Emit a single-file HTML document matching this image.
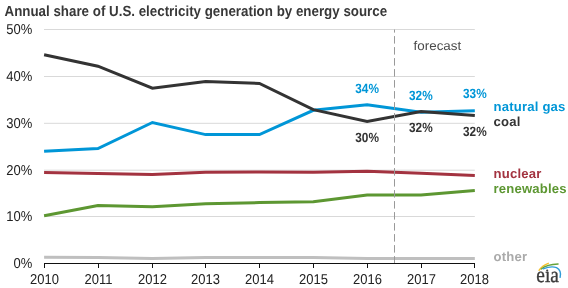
<!DOCTYPE html><html><head><meta charset="utf-8"><style>html,body{margin:0;padding:0;background:#fff;width:568px;height:288px;overflow:hidden}svg{display:block;will-change:transform;text-rendering:geometricPrecision}</style></head><body><svg width="568" height="288" viewBox="0 0 568 288">

<text transform="translate(4.5,15.8) scale(1.0,1.1)" font-family="Liberation Sans" font-size="13.35" font-weight="bold" fill="#383838">Annual share of U.S. electricity generation by energy source</text>
<line x1="44" x2="474.8" y1="29.5" y2="29.5" stroke="#d9d9d9" stroke-width="1"/>
<line x1="44" x2="474.8" y1="76.5" y2="76.5" stroke="#d9d9d9" stroke-width="1"/>
<line x1="44" x2="474.8" y1="123.3" y2="123.3" stroke="#d9d9d9" stroke-width="1"/>
<line x1="44" x2="474.8" y1="170.2" y2="170.2" stroke="#d9d9d9" stroke-width="1"/>
<line x1="44" x2="474.8" y1="216.5" y2="216.5" stroke="#d9d9d9" stroke-width="1"/>
<text transform="translate(32.3,33.9) scale(1.0,1.1)" font-family="Liberation Sans" font-size="13" text-anchor="end" fill="#222">50%</text>
<text transform="translate(32.3,80.9) scale(1.0,1.1)" font-family="Liberation Sans" font-size="13" text-anchor="end" fill="#222">40%</text>
<text transform="translate(32.3,127.7) scale(1.0,1.1)" font-family="Liberation Sans" font-size="13" text-anchor="end" fill="#222">30%</text>
<text transform="translate(32.3,174.6) scale(1.0,1.1)" font-family="Liberation Sans" font-size="13" text-anchor="end" fill="#222">20%</text>
<text transform="translate(32.3,220.9) scale(1.0,1.1)" font-family="Liberation Sans" font-size="13" text-anchor="end" fill="#222">10%</text>
<text transform="translate(32.3,267.9) scale(1.0,1.1)" font-family="Liberation Sans" font-size="13" text-anchor="end" fill="#222">0%</text>
<text transform="translate(413.6,49.7) scale(1.0,0.95)" font-family="Liberation Sans" font-size="13.4" fill="#4a4a4a">forecast</text>
<polyline points="44.10,257.25 97.94,257.50 152.40,258.50 205.62,257.50 259.46,257.50 313.30,257.50 367.14,258.50 420.98,258.50 474.82,258.50" fill="none" stroke="#bfbfbf" stroke-width="3" stroke-linejoin="miter"/>
<polyline points="44.10,215.70 97.94,205.60 152.40,206.80 205.62,203.80 259.46,202.60 313.30,201.70 367.14,195.00 420.98,195.00 474.82,190.60" fill="none" stroke="#5d9732" stroke-width="3" stroke-linejoin="miter"/>
<polyline points="44.10,172.40 97.94,173.40 152.40,174.60 205.62,172.30 259.46,172.10 313.30,172.20 367.14,171.30 420.98,173.20 474.82,175.40" fill="none" stroke="#a33340" stroke-width="3" stroke-linejoin="miter"/>
<polyline points="44.10,151.30 97.94,148.60 152.40,122.50 205.62,134.60 259.46,134.60 313.30,110.30 367.14,104.80 420.98,112.20 474.82,110.70" fill="none" stroke="#0096d7" stroke-width="3" stroke-linejoin="miter"/>
<polyline points="44.10,54.70 97.94,66.20 152.40,88.25 205.62,81.50 259.46,83.50 313.30,109.60 367.14,121.50 420.98,111.60 474.82,115.60" fill="none" stroke="#333333" stroke-width="3" stroke-linejoin="miter"/>
<line x1="394.5" x2="394.5" y1="263.5" y2="29.5" stroke="#999" stroke-width="1" stroke-dasharray="7.5 3.5" stroke-dashoffset="0.1"/>
<line x1="44" x2="475" y1="263.5" y2="263.5" stroke="#111" stroke-width="1"/>
<line x1="44.50" x2="44.50" y1="263" y2="268" stroke="#111" stroke-width="1"/>
<text transform="translate(44.50,283.8) scale(1.0,1.1)" font-family="Liberation Sans" font-size="13" text-anchor="middle" fill="#222">2010</text>
<line x1="98.50" x2="98.50" y1="263" y2="268" stroke="#111" stroke-width="1"/>
<text transform="translate(98.50,283.8) scale(1.0,1.1)" font-family="Liberation Sans" font-size="13" text-anchor="middle" fill="#222">2011</text>
<line x1="152.50" x2="152.50" y1="263" y2="268" stroke="#111" stroke-width="1"/>
<text transform="translate(152.50,283.8) scale(1.0,1.1)" font-family="Liberation Sans" font-size="13" text-anchor="middle" fill="#222">2012</text>
<line x1="205.50" x2="205.50" y1="263" y2="268" stroke="#111" stroke-width="1"/>
<text transform="translate(205.50,283.8) scale(1.0,1.1)" font-family="Liberation Sans" font-size="13" text-anchor="middle" fill="#222">2013</text>
<line x1="259.50" x2="259.50" y1="263" y2="268" stroke="#111" stroke-width="1"/>
<text transform="translate(259.50,283.8) scale(1.0,1.1)" font-family="Liberation Sans" font-size="13" text-anchor="middle" fill="#222">2014</text>
<line x1="313.50" x2="313.50" y1="263" y2="268" stroke="#111" stroke-width="1"/>
<text transform="translate(313.50,283.8) scale(1.0,1.1)" font-family="Liberation Sans" font-size="13" text-anchor="middle" fill="#222">2015</text>
<line x1="367.50" x2="367.50" y1="263" y2="268" stroke="#111" stroke-width="1"/>
<text transform="translate(367.50,283.8) scale(1.0,1.1)" font-family="Liberation Sans" font-size="13" text-anchor="middle" fill="#222">2016</text>
<line x1="421.50" x2="421.50" y1="263" y2="268" stroke="#111" stroke-width="1"/>
<text transform="translate(421.50,283.8) scale(1.0,1.1)" font-family="Liberation Sans" font-size="13" text-anchor="middle" fill="#222">2017</text>
<line x1="474.50" x2="474.50" y1="263" y2="268" stroke="#111" stroke-width="1"/>
<text transform="translate(474.50,283.8) scale(1.0,1.1)" font-family="Liberation Sans" font-size="13" text-anchor="middle" fill="#222">2018</text>
<text transform="translate(355.3,93) scale(0.97,1.1)" font-family="Liberation Sans" font-size="12.2" font-weight="bold" fill="#0096d7">34%</text>
<text transform="translate(355.3,142) scale(0.97,1.1)" font-family="Liberation Sans" font-size="12.2" font-weight="bold" fill="#333333">30%</text>
<text transform="translate(409.05,100) scale(0.97,1.1)" font-family="Liberation Sans" font-size="12.2" font-weight="bold" fill="#0096d7">32%</text>
<text transform="translate(409.05,132) scale(0.97,1.1)" font-family="Liberation Sans" font-size="12.2" font-weight="bold" fill="#333333">32%</text>
<text transform="translate(463.05,98) scale(0.97,1.1)" font-family="Liberation Sans" font-size="12.2" font-weight="bold" fill="#0096d7">33%</text>
<text transform="translate(463.05,136.25) scale(0.97,1.1)" font-family="Liberation Sans" font-size="12.2" font-weight="bold" fill="#333333">32%</text>
<text transform="translate(493.5,110.75) scale(1.0,1.0)" font-family="Liberation Sans" font-size="13.1" font-weight="bold" letter-spacing="0.2" fill="#0096d7">natural gas</text>
<text transform="translate(493.5,125.5) scale(1.0,1.0)" font-family="Liberation Sans" font-size="13.1" font-weight="bold" letter-spacing="0.2" fill="#333333">coal</text>
<text transform="translate(493.5,178) scale(1.0,1.0)" font-family="Liberation Sans" font-size="13.1" font-weight="bold" letter-spacing="0.2" fill="#a33340">nuclear</text>
<text transform="translate(493.5,193) scale(1.0,1.0)" font-family="Liberation Sans" font-size="13.1" font-weight="bold" letter-spacing="0.2" fill="#5d9732">renewables</text>
<text transform="translate(493.5,261) scale(1.0,1.0)" font-family="Liberation Sans" font-size="13.1" font-weight="bold" letter-spacing="0.2" fill="#aaa">other</text>
<text transform="translate(536.3,281.8) scale(0.92,1.04)" font-family="Liberation Serif" font-size="21" fill="#3c3c3c" stroke="#3c3c3c" stroke-width="0.35">eıa</text>
<circle cx="547.2" cy="270.6" r="1.05" fill="#3c3c3c"/>
<path d="M539 270.3 Q542.5 265.3 548.3 263.3" fill="none" stroke="#f5c02c" stroke-width="1.4" stroke-linecap="round"/>
<path d="M541.3 269 Q547 264.2 558.1 264" fill="none" stroke="#63a23a" stroke-width="1.3" stroke-linecap="round"/>
<path d="M543.2 268.8 Q551 265.8 556.5 267.6 Q561.8 270.3 560.1 277.3" fill="none" stroke="#2f9bd8" stroke-width="1.4" stroke-linecap="round"/>
</svg></body></html>
